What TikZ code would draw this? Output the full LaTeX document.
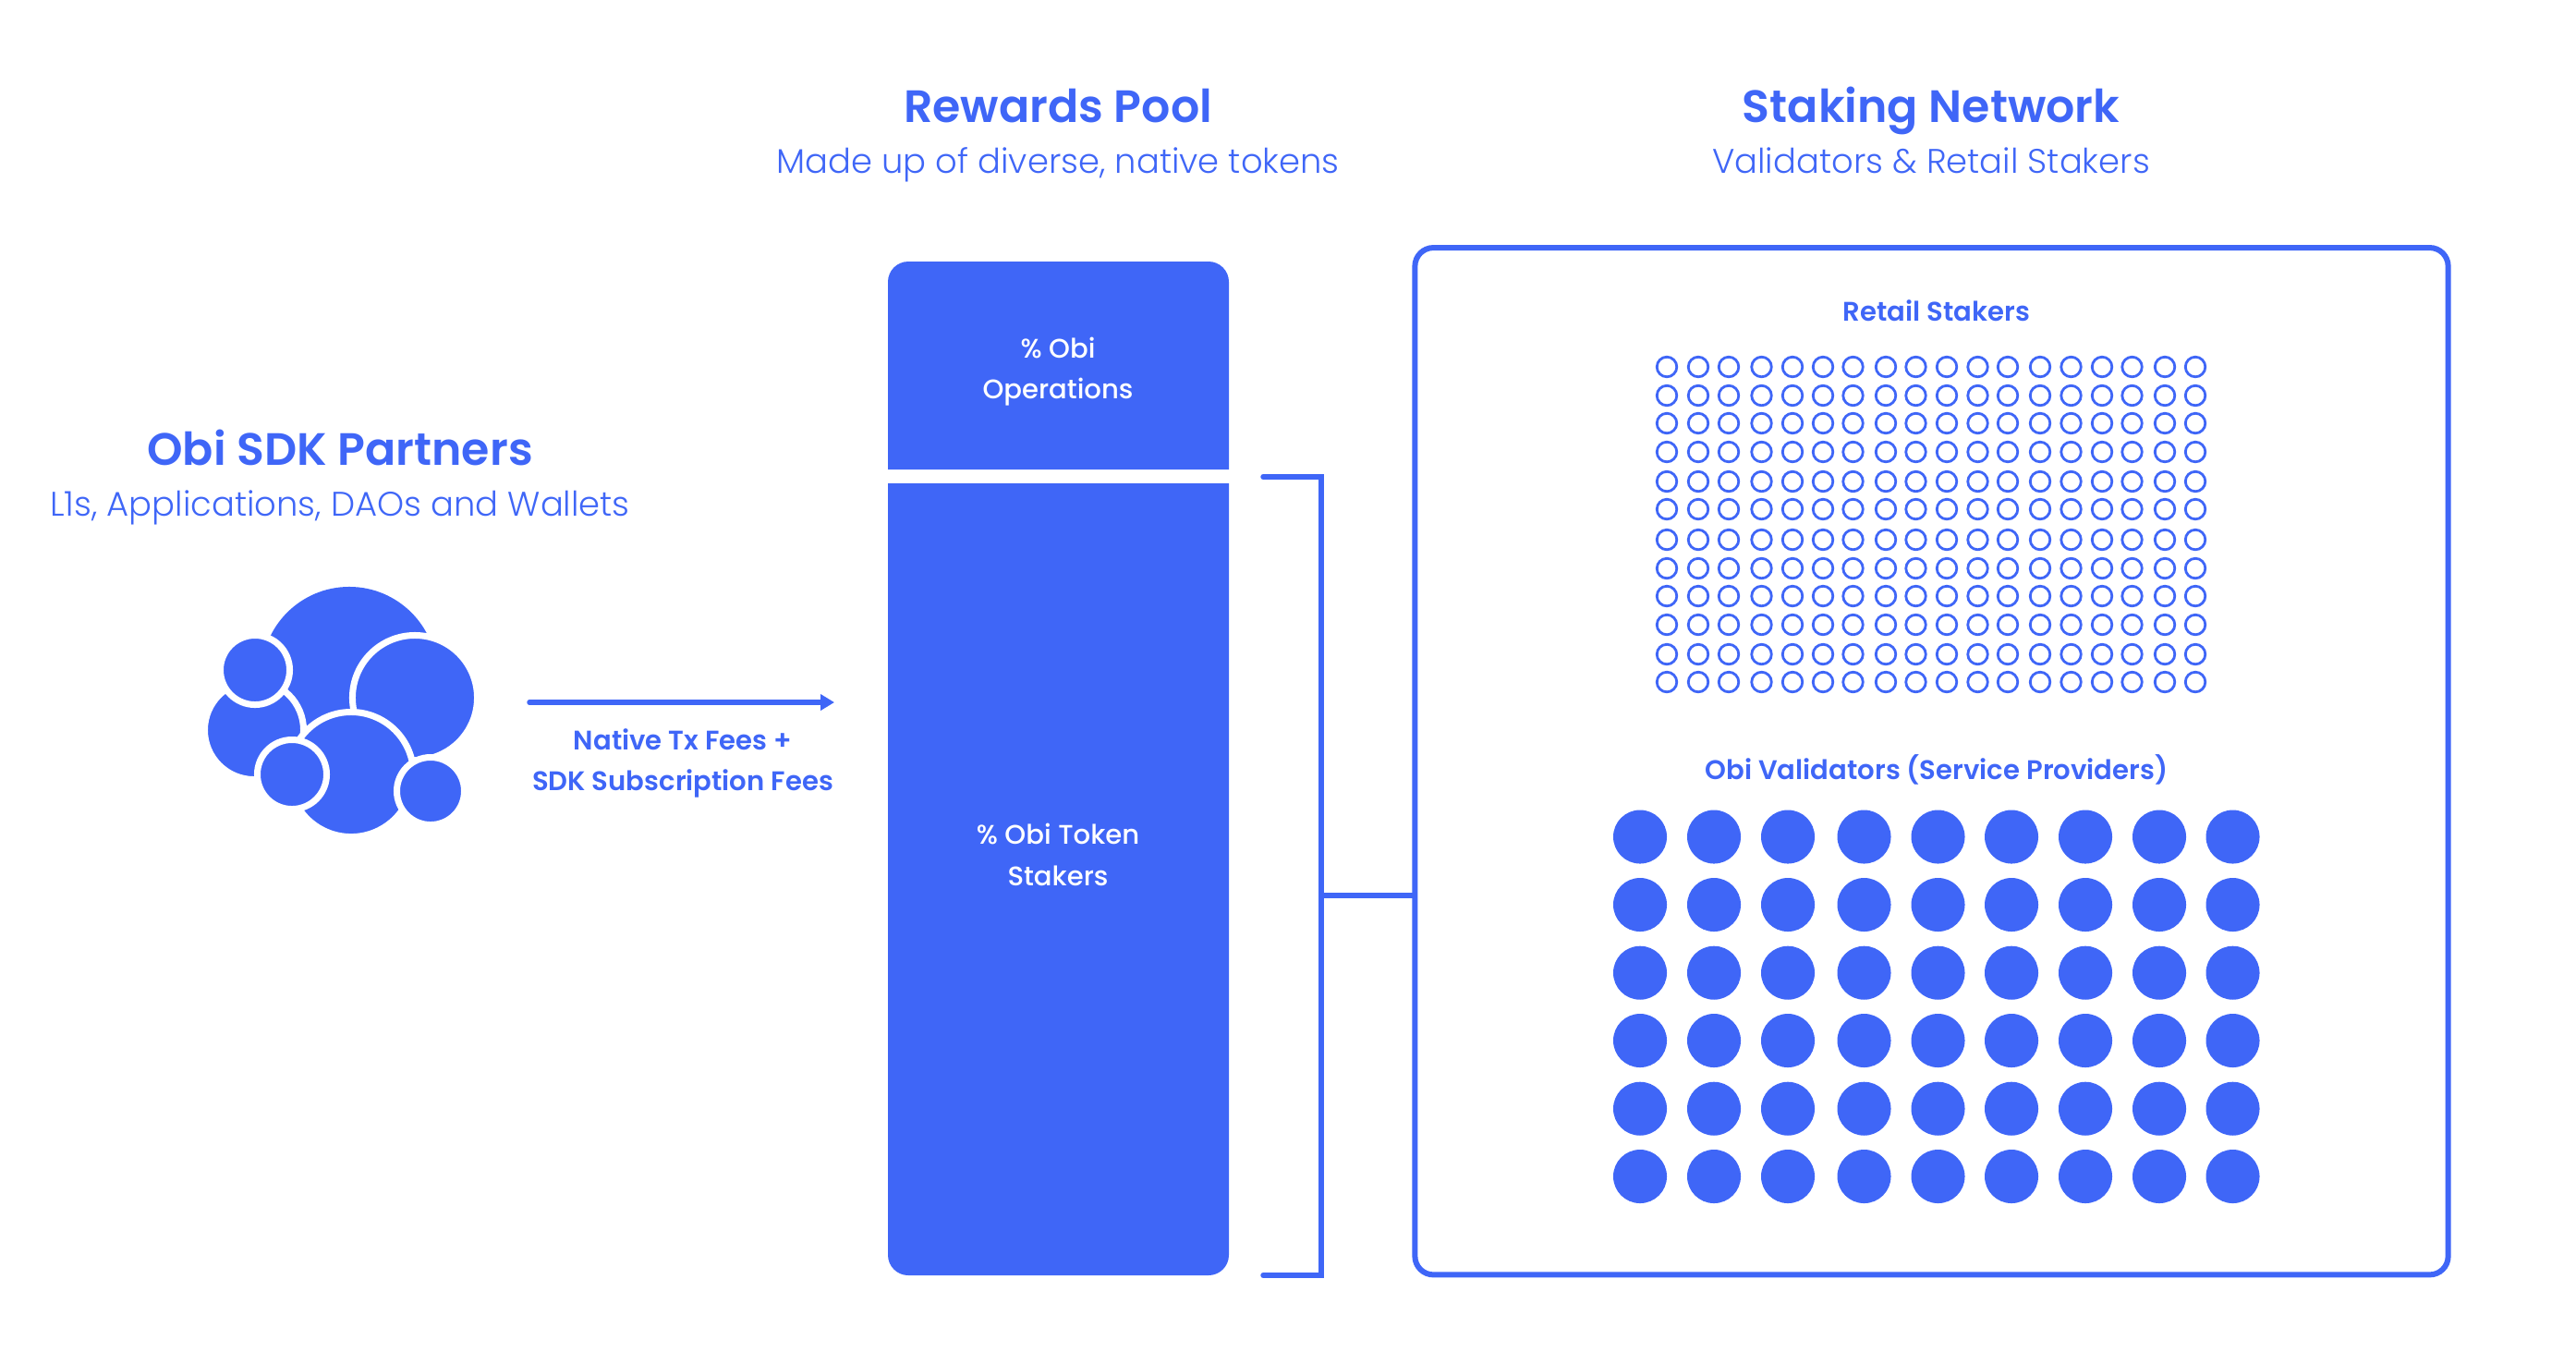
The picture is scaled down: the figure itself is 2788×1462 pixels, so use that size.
\documentclass[tikz,border=0pt]{standalone}
\usepackage{fontspec}
\usepackage{tikz}
\usetikzlibrary{arrows.meta}
\usetikzlibrary{positioning}
\setmainfont{Poppins}
\newfontfamily\semibold{Poppins SemiBold}
\newfontfamily\medium{Poppins Medium}
\newfontfamily\light{Poppins Light}
\definecolor{obiblue}{HTML}{3F66F7}
\tikzset{
    title/.style={text=obiblue, inner sep=0pt, text height=0.36cm, text depth=0.12cm, font=\semibold\fontsize{13.95}{17}\selectfont},
    subtitle/.style={text=obiblue, inner sep=0pt, text height=0.27cm, text depth=0.08cm, font=\light\fontsize{10.5}{13}\selectfont},
    label/.style={text=obiblue, inner sep=0pt, align=center, font=\semibold\fontsize{8.28}{12.7}\selectfont},
    poollabel/.style={text=white, inner sep=0pt, align=center, font=\medium\fontsize{8.28}{12.7}\selectfont},
    blob/.style={circle, fill=obiblue, draw=white, line width=0.07cm, inner sep=0pt},
    link/.style={draw=obiblue, line width=0.055cm, line cap=round},
    retaildot/.style={circle, draw=obiblue, line width=0.028cm, inner sep=0pt, minimum size=0.215cm},
    validatordot/.style={circle, fill=obiblue, inner sep=0pt, minimum size=0.58cm},
}

\begin{document}
\begin{tikzpicture}[x=0.01cm, y=-0.01cm]
    \useasboundingbox (0, 0) rectangle (2788, 1462);

    % column headings
    \node [title] (pooltitle) at (1145, 120) {Rewards Pool};
    \node [subtitle, below=0.15cm of pooltitle] (poolsub) {Made up of diverse, native tokens};
    \node [title] (networktitle) at (2090, 120) {Staking Network};
    \node [subtitle, below=0.15cm of networktitle] (networksub) {Validators \& Retail Stakers};
    \node [title] (partnertitle) at (368, 491) {Obi SDK Partners};
    \node [subtitle, below=0.15cm of partnertitle] (partnersub) {L1s, Applications, DAOs and Wallets};

    % partner cloud
    \node [blob, draw=none, minimum size=1.9cm] (cloudtop) at (378, 730) {};
    \node [blob, minimum size=1.07cm] (cloudleft) at (275, 790) {};
    \node [blob, minimum size=1.35cm] (cloudright) at (449, 755) {};
    \node [blob, minimum size=1.35cm] (cloudbottom) at (380, 838) {};
    \node [blob, minimum size=0.75cm] (smallupper) at (276, 725) {};
    \node [blob, minimum size=0.75cm] (smalllower) at (316, 838) {};
    \node [blob, minimum size=0.73cm] (smallright) at (466, 856) {};

    % fee arrow
    \coordinate (feestart) at (573, 760);
    \coordinate (feeend) at (903, 760);
    \draw [link, -{Triangle[length=0.15cm, width=0.17cm]}] (feestart) -- (feeend);
    \node [label] (feelabel) at (739, 826) {Native Tx Fees +\\SDK Subscription Fees};

    % rewards pool
    \coordinate (opsnw) at (961, 283);
    \coordinate (opsse) at (1330, 508);
    \coordinate (stakersnw) at (961, 523);
    \coordinate (stakersse) at (1330, 1380);
    \fill [obiblue] (opsnw |- opsse) [rounded corners=0.22cm] -- (opsnw) -- (opsse |- opsnw) [sharp corners] -- (opsse) -- cycle;
    \fill [obiblue] (stakersnw) -- (stakersse |- stakersnw) [rounded corners=0.22cm] -- (stakersse) -- (stakersnw |- stakersse) [sharp corners] -- cycle;
    \node [poollabel] (opslabel) at (1145, 402) {\% Obi\\Operations};
    \node [poollabel] (stakerslabel) at (1145, 925) {\% Obi Token\\Stakers};

    % staking network
    \node [draw=obiblue, line width=0.06cm, rounded corners=0.2cm, minimum width=11.176cm, minimum height=11.107cm, inner sep=0pt] (network) at (2090.5, 823.7) {};
    \node [label] (retaillabel) at (2096, 336) {Retail Stakers};
    \node [label] (validatorlabel) at (2096, 833) {Obi Validators (Service Providers)};

    % bracket
    \coordinate (brackettop) at (1367, 516);
    \coordinate (bracketbottom) at (1367, 1380);
    \coordinate (bracketspine) at (1430, 969);
    \draw [link] (brackettop) -- (bracketspine |- brackettop) -- (bracketspine |- bracketbottom) -- (bracketbottom);
    \draw [link] (bracketspine) -- (network.west |- bracketspine);

    % retail stakers
    \foreach \cx [count=\i] in {1804,1838,1871,1906.5,1940,1973,2005.5,2041,2073.5,2107,2140.5,2173,2208,2241.5,2275,2307.5,2343,2376}
        \foreach \cy [count=\j] in {397,428,458,489,521,551,584,615,645,676,708,738}
            \node [retaildot] (retail-\i-\j) at (\cx, \cy) {};

    % validators
    \foreach \cx [count=\i] in {1775,1855,1935,2017.5,2097.5,2177,2257,2337,2416.5}
        \foreach \cy [count=\j] in {905.5,979,1052.7,1126,1199.7,1273}
            \node [validatordot] (validator-\i-\j) at (\cx, \cy) {};
\end{tikzpicture}
\end{document}
